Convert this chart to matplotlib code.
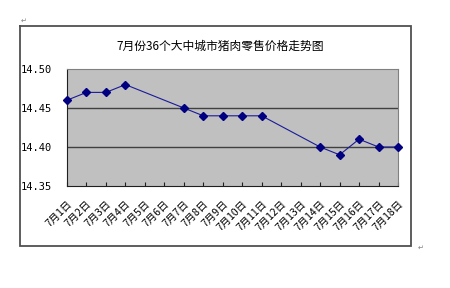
import matplotlib
matplotlib.use("Agg")
import matplotlib.pyplot as plt
from matplotlib.lines import Line2D
import numpy as np

plt.rcParams['font.family'] = ['Noto Sans CJK SC', 'DejaVu Sans']

# 数据
days = ["7月%d日" % d for d in range(1, 19)]
price_days = [0, 1, 2, 3, 6, 7, 8, 9, 10, 13, 14, 15, 16, 17]
prices = [14.46, 14.47, 14.47, 14.48, 14.45, 14.44, 14.44, 14.44, 14.44,
          14.40, 14.39, 14.41, 14.40, 14.40]
yticks = [14.35, 14.40, 14.45, 14.50]
title = "7月份36个大中城市猪肉零售价格走势图"

fig = plt.figure(figsize=(4.5, 2.88), dpi=100)
W, H = 450.0, 288.0

# 图表外框
x0, x1 = 20.0 / W, 411.0 / W
y0, y1 = 1 - 246.0 / H, 1 - 26.0 / H
fig.add_artist(Line2D([x0, x1, x1, x0, x0], [y1, y1, y0, y0, y1],
                      transform=fig.transFigure, color='#505050',
                      linewidth=1.3, solid_joinstyle='miter'))
fig.text(21 / W, 1 - 21 / H, "↵", fontsize=5, color='#808080',
         family=['DejaVu Sans'], ha='left', va='center')
fig.text(418 / W, 1 - 248 / H, "↵", fontsize=5, color='#808080',
         family=['DejaVu Sans'], ha='left', va='center')

ax = fig.add_axes([67 / W, 1 - 186 / H, 331 / W, 117 / H])
ax.set_facecolor('#c0c0c0')
ax.plot(price_days, prices, color='#1a1a9a', linewidth=0.8,
        marker='D', markersize=4, markerfacecolor='#000080',
        markeredgecolor='#000080', clip_on=False, zorder=3)

ax.set_xlim(0, len(days) - 1)
ax.set_ylim(14.35, 14.50)
for v in yticks[1:-1]:
    ax.axhline(v, color='#404040', linewidth=1.0, zorder=1)

ax.set_xticks(np.arange(len(days)))
ax.set_xticklabels(days, rotation=45, ha='right', rotation_mode='anchor',
                   fontsize=7.5)
ax.tick_params(axis='x', direction='in', length=3, width=0.8, pad=9,
               color='#202020')
ax.set_yticks(yticks)
ax.set_yticklabels(["%.2f" % v for v in yticks], fontsize=7.5,
                   family=['DejaVu Sans Mono'])
ax.tick_params(axis='y', length=0, pad=11)

ax.spines['left'].set_color('#202020')
ax.spines['bottom'].set_color('#202020')
ax.spines['top'].set_color('#808080')
ax.spines['right'].set_color('#808080')

fig.text(220 / W, 1 - 46 / H, title, fontsize=8.5, ha='center', va='center')

fig.savefig("out.png", dpi=100)
